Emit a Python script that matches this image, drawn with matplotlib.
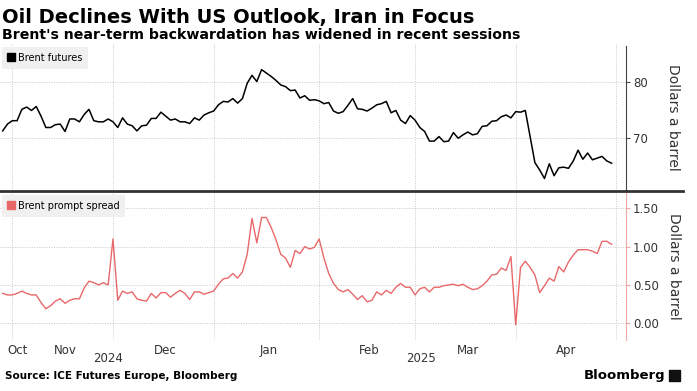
import numpy as np
import pandas as pd
import matplotlib
matplotlib.use("Agg")
import matplotlib.pyplot as plt
from matplotlib.lines import Line2D
from matplotlib.patches import Rectangle
from matplotlib.transforms import blended_transform_factory

# Brent futures, $/bbl, one value per trading day (29 Oct 2024 - 29 Apr 2025)
brent = [71.3, 72.5, 73.1, 73.1, 75.1, 75.5, 74.9, 75.6, 73.9, 71.9,
         71.9, 72.4, 72.5, 71.2, 73.4, 73.4, 72.9, 74.2, 75.1, 73.1,
         72.9, 72.9, 73.4, 72.9, 71.9, 73.6, 72.5, 72.2, 71.3, 72.2,
         72.3, 73.5, 73.5, 74.6, 73.9, 73.2, 73.4, 72.9, 72.9, 72.6,
         73.6, 73.2, 74.1, 74.5, 74.8, 75.9, 76.5, 76.4, 77.0, 76.2,
         77.0, 79.7, 81.1, 80.0, 82.1, 81.5, 80.9, 80.2, 79.4, 79.1,
         78.4, 78.5, 77.1, 77.5, 76.7, 76.8, 76.6, 76.1, 76.3, 74.8,
         74.4, 74.7, 75.8, 77.0, 75.2, 75.1, 74.8, 75.3, 75.9, 76.1,
         76.5, 74.5, 74.9, 73.2, 72.6, 74.0, 73.2, 71.9, 71.2, 69.5,
         69.5, 70.3, 69.4, 69.5, 71.0, 70.0, 70.6, 71.1, 70.6, 70.8,
         72.1, 72.2, 73.0, 73.1, 73.8, 74.1, 73.6, 74.7, 74.6, 74.9,
         70.3, 65.7, 64.4, 62.9, 65.5, 63.4, 64.8, 64.9, 64.7, 66.0,
         67.9, 66.3, 67.4, 66.2, 66.5, 66.8, 66.0, 65.6]

# Brent prompt spread, $/bbl
spread = [0.39, 0.37, 0.37, 0.39, 0.42, 0.39, 0.37, 0.37, 0.27, 0.19,
          0.23, 0.29, 0.32, 0.26, 0.30, 0.32, 0.32, 0.46, 0.55, 0.53,
          0.50, 0.53, 0.50, 1.10, 0.30, 0.42, 0.39, 0.41, 0.32, 0.30,
          0.29, 0.39, 0.33, 0.40, 0.40, 0.34, 0.39, 0.43, 0.39, 0.31,
          0.41, 0.41, 0.38, 0.40, 0.42, 0.51, 0.58, 0.59, 0.65, 0.59,
          0.67, 0.90, 1.37, 1.05, 1.38, 1.38, 1.25, 1.09, 0.90, 0.85,
          0.73, 0.95, 0.91, 1.00, 0.97, 0.99, 1.10, 0.85, 0.65, 0.52,
          0.44, 0.41, 0.44, 0.38, 0.31, 0.36, 0.28, 0.30, 0.41, 0.37,
          0.43, 0.39, 0.47, 0.52, 0.47, 0.47, 0.37, 0.45, 0.47, 0.41,
          0.47, 0.47, 0.49, 0.50, 0.51, 0.49, 0.51, 0.47, 0.44, 0.45,
          0.49, 0.55, 0.63, 0.64, 0.72, 0.69, 0.87, -0.02, 0.73, 0.81,
          0.73, 0.63, 0.40, 0.49, 0.59, 0.55, 0.74, 0.67, 0.80, 0.89,
          0.96, 0.96, 0.96, 0.94, 0.91, 1.07, 1.07, 1.03]

month_names = ["Oct", "Nov", "Dec", "Jan", "Feb", "Mar", "Apr"]
holidays = ["2024-12-25", "2025-01-01", "2025-04-18"]

# trading-day axis (runs to 30 Apr so the last month boundary exists)
days = pd.bdate_range("2024-10-29", "2025-04-30")
days = days[~days.isin(pd.to_datetime(holidays))]
idx = pd.Series(np.arange(len(days)), index=days)
x = np.arange(len(brent))

month_end = idx.groupby(days.to_period("M")).max().values
data_days = days[:len(brent)]
month_mid = idx.iloc[:len(brent)].groupby(data_days.to_period("M")).mean().values
last_2024 = idx[days.year == 2024].max()

BLACK = "#000000"
RED = "#e8686a"
GRID = "#c8c8c8"
TXT = "#333333"

W, H = 697, 391
fig = plt.figure(figsize=(W / 100, H / 100), dpi=100)

def px_axes(left, top, right, bottom):
    return fig.add_axes([left / W, 1 - bottom / H, (right - left) / W, (bottom - top) / H])

ax1 = px_axes(0, 43, 626, 191)
ax2 = px_axes(0, 192, 626, 340)

x0, x1 = -0.56, 130.0
for ax in (ax1, ax2):
    ax.set_xlim(x0, x1)
    for s in ("left", "top", "bottom"):
        ax.spines[s].set_visible(False)
    ax.yaxis.tick_right()
    ax.tick_params(axis="y", length=3, width=0.8, pad=2, labelsize=8.5,
                   labelcolor=TXT)
    for m in month_end:
        ax.axvline(m, color=GRID, lw=0.7, ls=(0, (1, 1.5)), zorder=0)
    ax.yaxis.set_label_position("right")

# top panel
ax1.plot(x, brent, color=BLACK, lw=1.1)
ax1.set_ylim(60.7, 86.8)
ax1.set_yticks([70, 80])
ax1.set_xticks([])
ax1.spines["right"].set_color("#444444")
ax1.spines["right"].set_bounds(60.7, 86.2)
ax1.tick_params(axis="y", color="#444444")
for v in (70, 80):
    ax1.axhline(v, color=GRID, lw=0.7, ls=(0, (1, 1.5)), zorder=0)
ax1.set_ylabel("Dollars a barrel", rotation=270, fontsize=10, color=TXT,
               labelpad=23)

# bottom panel
ax2.plot(x, spread, color=RED, lw=1.0)
ax2.set_ylim(-0.218, 1.713)
ax2.set_yticks([0, 0.5, 1.0, 1.5], ["0.00", "0.50", "1.00", "1.50"])
ax2.spines["right"].set_color("#f0a8a8")
ax2.tick_params(axis="y", color="#f0a8a8")
for v in (0, 0.5, 1.0, 1.5):
    ax2.axhline(v, color=GRID, lw=0.7, ls=(0, (1, 1.5)), zorder=0)
ax2.set_ylabel("Dollars a barrel", rotation=270, fontsize=10, color=TXT,
               labelpad=16)

ax2.set_xticks(month_mid, month_names)
ax2.tick_params(axis="x", length=0, pad=3, labelsize=8.5, labelcolor=TXT)
ax2.get_xticklabels()[0].set_ha("left")
trans = blended_transform_factory(ax2.transData, fig.transFigure)
ax2.text((x0 + last_2024 + 0.5) / 2, 1 - 358 / H, "2024", transform=trans,
         ha="center", va="center", fontsize=8.5, color=TXT)
ax2.text((last_2024 + 0.5 + x1) / 2, 1 - 358 / H, "2025", transform=trans,
         ha="center", va="center", fontsize=8.5, color=TXT)

# legends
for ax, col, lab, ytop in ((ax1, BLACK, "Brent futures", 1 - 4 / 148),
                           (ax2, RED, "Brent prompt spread", 1 - 3 / 148)):
    h = Line2D([], [], marker="s", ls="none", color=col, markersize=6)
    ax.legend([h], [lab], loc="upper left", bbox_to_anchor=(2 / 626, ytop),
              borderaxespad=0, frameon=True, fancybox=False,
              facecolor="#f0f0f0", edgecolor="none", framealpha=1,
              fontsize=7, handlelength=0.7, handletextpad=0.3, borderpad=0.6)

# separator between panels
fig.add_artist(Line2D([0, 683 / W], [1 - 191 / H, 1 - 191 / H],
                      transform=fig.transFigure, color="#333333", lw=2))

# titles and footer
fig.text(2 / W, 1 - 17 / H, "Oil Declines With US Outlook, Iran in Focus",
         fontsize=14, fontweight="bold", va="center", ha="left")
fig.text(2 / W, 1 - 35 / H,
         "Brent's near-term backwardation has widened in recent sessions",
         fontsize=10.2, fontweight="bold", va="center", ha="left")
fig.text(5 / W, 1 - 376 / H, "Source: ICE Futures Europe, Bloomberg",
         fontsize=7.5, fontweight="bold", va="center", ha="left")
fig.text(665 / W, 1 - 375 / H, "Bloomberg", fontsize=9.5, fontweight="bold",
         va="center", ha="right")
fig.add_artist(Rectangle((669 / W, 1 - 381 / H), 11 / W, 11 / H,
                         transform=fig.transFigure, color="#111111"))

fig.savefig("out.png", dpi=100)
